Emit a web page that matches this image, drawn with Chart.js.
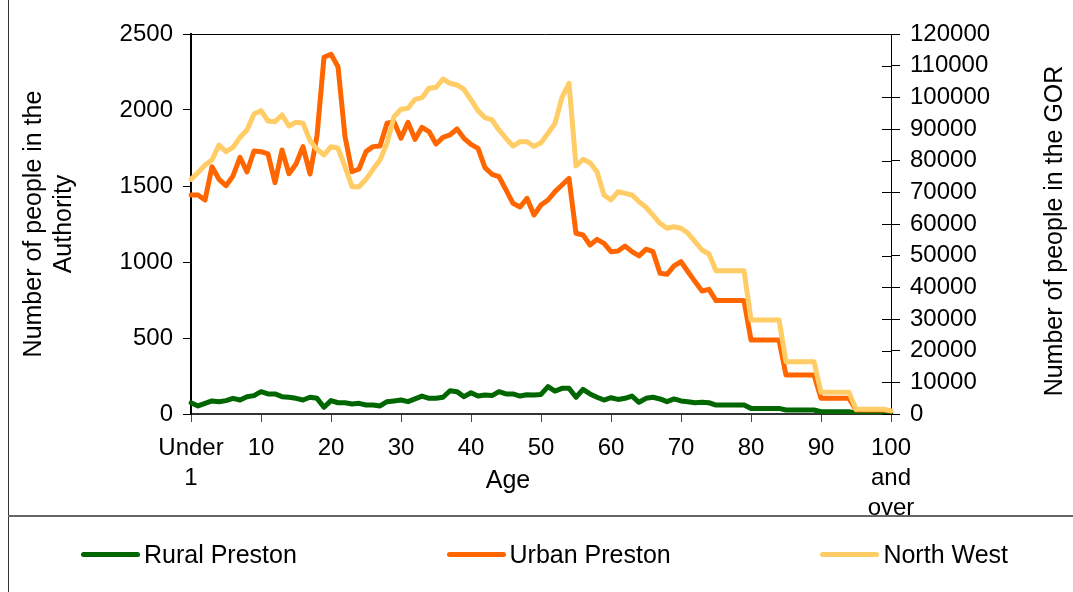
<!DOCTYPE html>
<html>
<head>
<meta charset="utf-8">
<script src="https://cdn.jsdelivr.net/npm/chart.js@4.4.1/dist/chart.umd.min.js"></script>
<style>
  body { margin: 0; background: #fff; font-family: "Liberation Sans", Arial, sans-serif; }
  #frame { position: relative; width: 1073px; height: 592px; overflow: hidden; background: #fff; }
  #plot { position: absolute; left: 0; top: 0; width: 1073px; height: 516px; }
  #edge { position: absolute; left: 8px; top: 0; width: 1px; height: 592px; background: #333; }
  #legend { position: absolute; left: 8px; top: 515px; right: 0; height: 77px; border-top: 2px solid #666;
            box-sizing: border-box; display: flex; justify-content: space-between; align-items: center;
            padding: 0 65px 0 73px; }
  .item { display: flex; align-items: center; font-size: 25px; color: #000; }
  .swatch { width: 59px; height: 5px; border-radius: 3px; margin-right: 4px; }
</style>
</head>
<body>
<div id="frame">
  <div id="plot"><canvas id="chart"></canvas></div>
  <div id="edge"></div>
  <div id="legend"></div>
</div>
<script>
// single years of age, "Under 1" .. "100 and over"
const ageLabels = [
  "Under 1", "1", "2", "3", "4", "5", "6", "7", "8", "9",
  "10", "11", "12", "13", "14", "15", "16", "17", "18", "19",
  "20", "21", "22", "23", "24", "25", "26", "27", "28", "29",
  "30", "31", "32", "33", "34", "35", "36", "37", "38", "39",
  "40", "41", "42", "43", "44", "45", "46", "47", "48", "49",
  "50", "51", "52", "53", "54", "55", "56", "57", "58", "59",
  "60", "61", "62", "63", "64", "65", "66", "67", "68", "69",
  "70", "71", "72", "73", "74", "75", "76", "77", "78", "79",
  "80", "81", "82", "83", "84", "85", "86", "87", "88", "89",
  "90", "91", "92", "93", "94", "95", "96", "97", "98", "99",
  "100 and over"
];

// left axis (Authority)
const ruralPreston = [
  74, 53, 70, 86, 81, 88, 103, 92, 114, 121,
  147, 132, 132, 114, 110, 103, 92, 110, 103, 44,
  88, 74, 74, 66, 70, 59, 59, 53, 81, 86,
  92, 81, 99, 118, 103, 103, 110, 153, 147, 114,
  140, 118, 125, 121, 147, 132, 132, 118, 127, 125,
  129, 180, 151, 169, 169, 110, 162, 132, 110, 92,
  107, 96, 103, 118, 77, 103, 110, 99, 81, 99,
  86, 81, 74, 77, 74, 59, 59, 59, 59, 59,
  37, 37, 37, 37, 37, 26, 26, 26, 26, 26,
  15, 15, 15, 15, 15, 5, 5, 5, 5, 5,
  3
];
const urbanPreston = [
  1441, 1441, 1408, 1627, 1544, 1502, 1566, 1689, 1592, 1730,
  1726, 1711, 1522, 1737, 1581, 1645, 1759, 1579, 1830, 2347,
  2367, 2285, 1825, 1594, 1612, 1726, 1759, 1763, 1913, 1923,
  1814, 1919, 1807, 1886, 1858, 1776, 1820, 1836, 1875, 1814,
  1774, 1748, 1621, 1577, 1561, 1474, 1386, 1362, 1419, 1309,
  1375, 1408, 1463, 1507, 1550, 1189, 1178, 1112, 1149, 1123,
  1068, 1072, 1105, 1068, 1040, 1084, 1068, 926, 919, 974,
  1002, 936, 871, 809, 820, 746, 746, 746, 746, 746,
  487, 487, 487, 487, 487, 257, 257, 257, 257, 257,
  103, 103, 103, 103, 103, 26, 26, 26, 26, 26,
  20
];
// right axis (GOR)
const northWest = [
  74110, 76210, 78630, 80210, 84950, 82840, 84210, 87370, 89690, 94740,
  95790, 92530, 92320, 94420, 90950, 92110, 91800, 86310, 83590, 81790,
  84420, 83910, 78100, 71780, 71780, 74110, 77270, 80210, 85490, 93890,
  96220, 96540, 99370, 99890, 102860, 103170, 105790, 104430, 103900, 102540,
  99160, 95790, 93570, 92850, 89690, 87060, 84630, 85990, 85990, 84500,
  85680, 88640, 91800, 100010, 104430, 78320, 80420, 79360, 76520, 69160,
  67580, 70200, 69690, 69160, 67050, 65280, 62800, 60220, 58640, 59150,
  58640, 57060, 54410, 51790, 50530, 45250, 45250, 45250, 45250, 45250,
  29700, 29700, 29700, 29700, 29700, 16530, 16530, 16530, 16530, 16530,
  6840, 6840, 6840, 6840, 6840, 1470, 1470, 1470, 1470, 1470,
  1000
];

const leftTitle = ["Number of people in the", "Authority"];
const rightTitle = "Number of people in the GOR";
const xTitle = "Age";

const FONT = '"Liberation Sans", Arial, sans-serif';

// axis titles, top frame line and the inner half of the right-axis ticks
const extras = {
  id: "extras",
  afterDraw(chart) {
    const {ctx, chartArea: a, scales} = chart;
    ctx.save();
    ctx.strokeStyle = "#000";
    ctx.lineWidth = 1;
    ctx.beginPath();
    ctx.moveTo(a.left, a.top + 0.5);
    ctx.lineTo(a.right + 9, a.top + 0.5);
    const r = scales.y2;
    r.ticks.forEach(t => {
      const y = Math.round(r.getPixelForValue(t.value)) + 0.5;
      ctx.moveTo(a.right - 9, y);
      ctx.lineTo(a.right, y);
    });
    ctx.stroke();

    ctx.fillStyle = "#000";
    ctx.font = "25px " + FONT;
    ctx.textAlign = "center";
    ctx.textBaseline = "middle";
    const cy = (a.top + a.bottom) / 2;
    leftTitle.forEach((line, i) => {
      ctx.save();
      ctx.translate(34 + i * 30, cy);
      ctx.rotate(-Math.PI / 2);
      ctx.fillText(line, 0, 0);
      ctx.restore();
    });
    ctx.save();
    ctx.translate(1055, cy + 7);
    ctx.rotate(-Math.PI / 2);
    ctx.fillText(rightTitle, 0, 0);
    ctx.restore();
    ctx.fillText(xTitle, 508, 481);
    ctx.restore();
  }
};

const data = {
  labels: ageLabels,
  datasets: [
    {label: "Rural Preston", data: ruralPreston, borderColor: "#006600", yAxisID: "y", order: 2},
    {label: "Urban Preston", data: urbanPreston, borderColor: "#FF6600", yAxisID: "y", order: 1},
    {label: "North West", data: northWest, borderColor: "#FFCC66", yAxisID: "y2", order: 0},
  ],
};
data.datasets.forEach(d => {
  d.borderWidth = 5;
  d.pointRadius = 0;
  d.tension = 0;
  d.fill = false;
  d.borderJoinStyle = "round";
  d.borderCapStyle = "round";
});

const options = {
  responsive: true,
  maintainAspectRatio: false,
  animation: false,
  layout: {padding: {top: 34, left: 0, right: 0, bottom: 0}},
  plugins: {
    legend: {display: false},
    tooltip: {enabled: false},
  },
  scales: {
    x: {
      type: "category",
      offset: false,
      afterFit: s => { s.height = 102; },
      grid: {
        drawOnChartArea: false,
        tickLength: 8,
        tickColor: c => (c.index % 10 === 0 ? "#444" : "rgba(0,0,0,0)"),
      },
      border: {color: "#333", width: 2},
      ticks: {
        autoSkip: false,
        maxRotation: 0,
        padding: 11,
        color: "#000",
        font: {family: FONT, size: 24, lineHeight: 1.25},
        callback: function (v, i) {
          return i % 10 === 0 ? ageLabels[i].split(" ") : "";
        },
      },
    },
    y: {
      position: "left",
      min: 0,
      max: 2500,
      afterFit: s => { s.width = 191; },
      grid: {drawOnChartArea: false, tickLength: 8, tickColor: "#000"},
      border: {color: "#000", width: 2},
      ticks: {
        stepSize: 500,
        autoSkip: false,
        padding: 10,
        color: "#000",
        font: {family: FONT, size: 24},
        callback: v => String(v),
      },
    },
    y2: {
      position: "right",
      min: 0,
      max: 120000,
      afterFit: s => { s.width = 182; },
      grid: {drawOnChartArea: false, tickLength: 9, tickColor: "#000"},
      border: {color: "#000", width: 1},
      ticks: {
        stepSize: 10000,
        autoSkip: false,
        padding: 10,
        color: "#000",
        font: {family: FONT, size: 24},
        callback: v => String(v),
      },
    },
  },
};

const chart = new Chart(document.getElementById("chart"), {type: "line", data, options, plugins: [extras]});

// legend built from the datasets
const legend = document.getElementById("legend");
chart.data.datasets.forEach(d => {
  const item = document.createElement("div");
  item.className = "item";
  const sw = document.createElement("span");
  sw.className = "swatch";
  sw.style.background = d.borderColor;
  item.appendChild(sw);
  item.appendChild(document.createTextNode(d.label));
  legend.appendChild(item);
});
</script>
</body>
</html>
